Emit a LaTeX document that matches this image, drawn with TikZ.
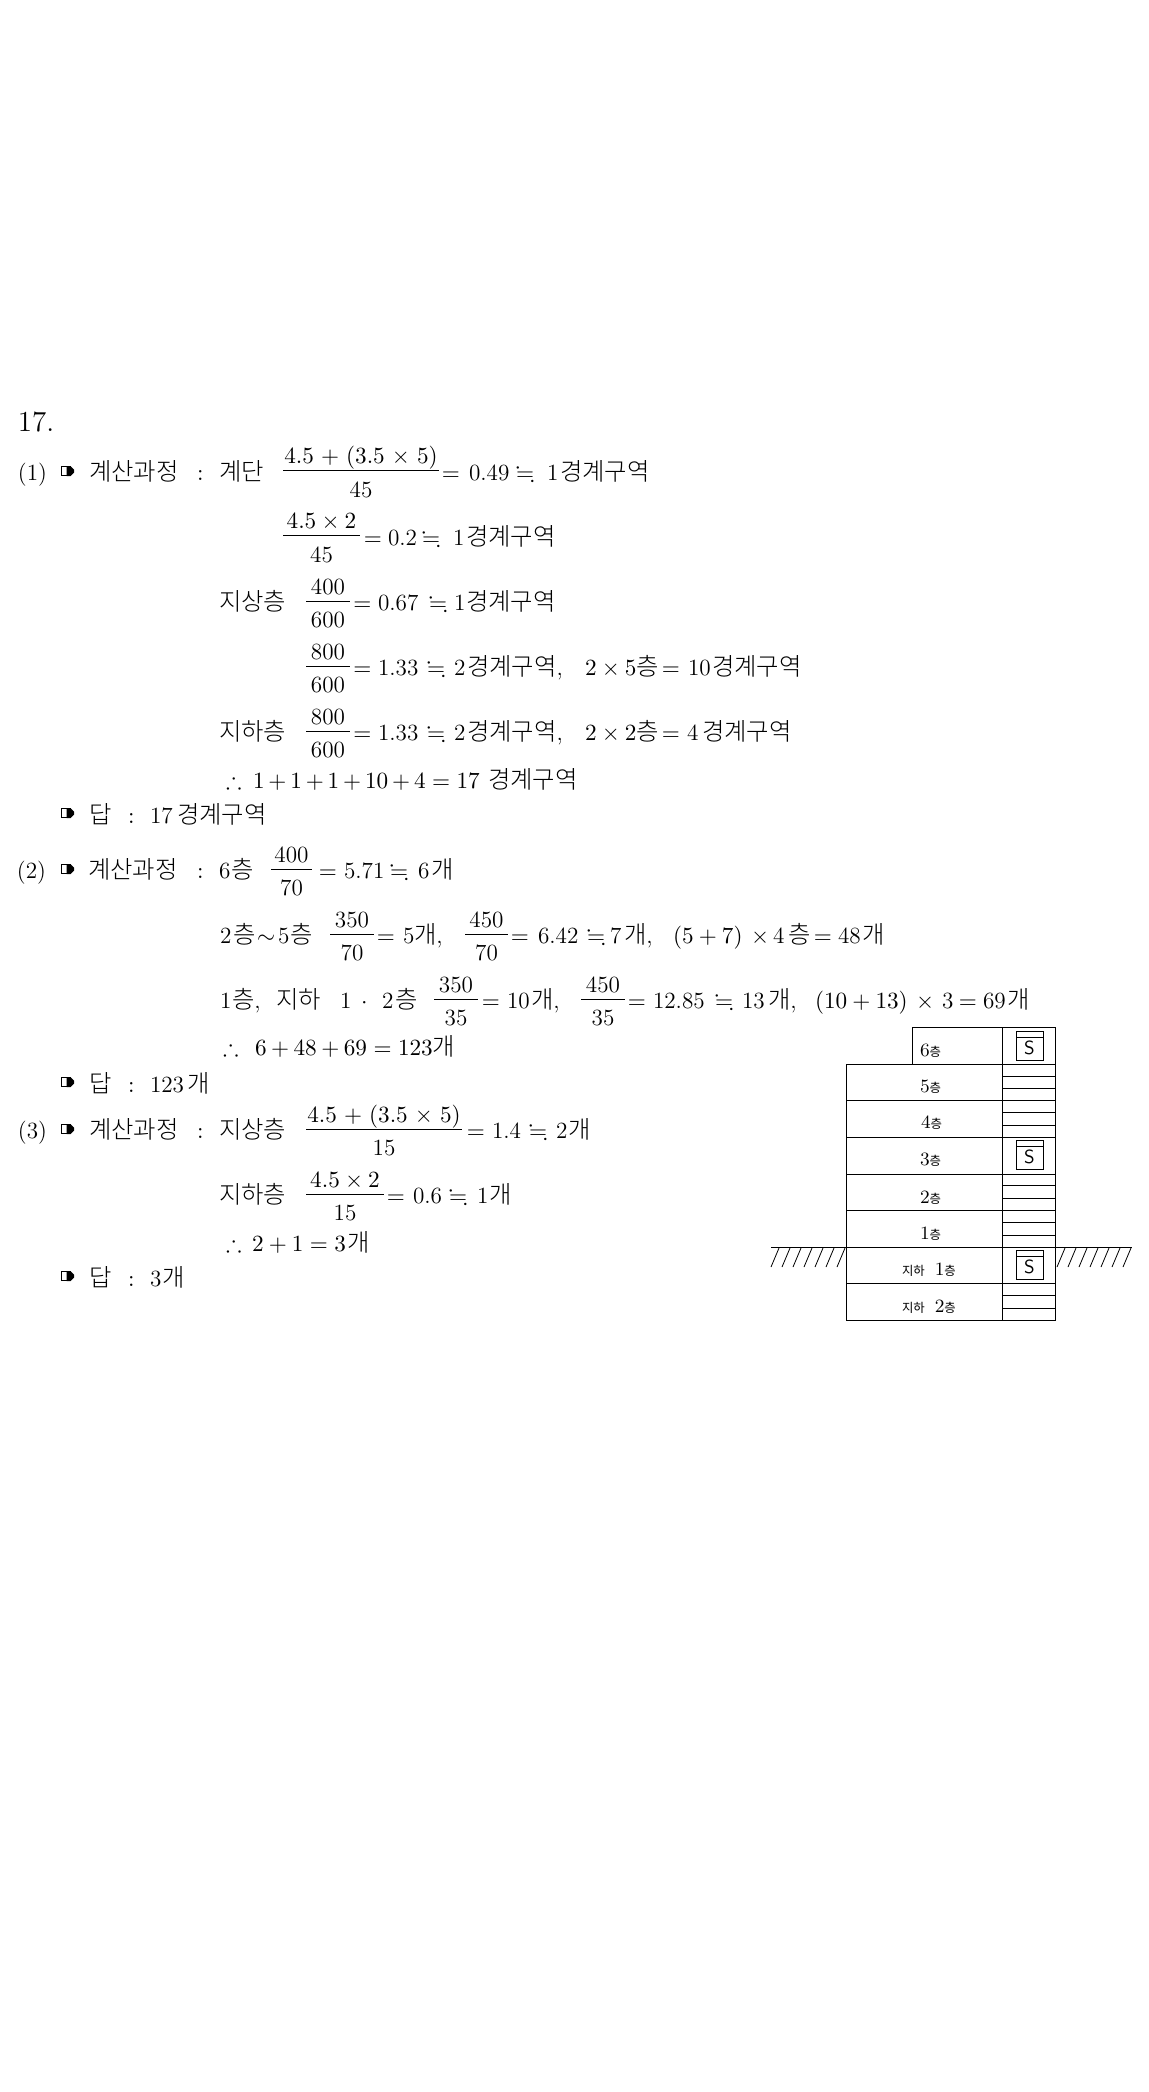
\RequirePackage{fix-cm}
\documentclass[tikz,border=0pt]{standalone}
\usepackage{amssymb}
\usepackage{fontspec}
\newfontfamily\kr{Noto Sans CJK KR Light}[Scale=1.05]
\newfontfamily\krb{Noto Sans CJK KR}
\newcount\tn
\tikzset{
  txt/.style={anchor=base west,inner sep=0pt,outer sep=0pt,font=\fontsize{11.6}{14}\selectfont},
  num/.style={anchor=base,inner sep=0pt,outer sep=0pt,font=\fontsize{11.6}{14}\selectfont},
  lab/.style={anchor=base west,inner sep=0pt,outer sep=0pt,font=\fontsize{9.4}{11}\selectfont},
  big/.style={anchor=base west,inner sep=0pt,outer sep=0pt,font=\fontsize{14.5}{17}\selectfont},
  fracline/.style={line width=0.5pt},
  wall/.style={line width=0.7pt},
  hatch/.style={line width=0.4pt},
}
\newcommand\K[1]{{\kr #1}}
\newcommand\Ks[1]{{\fontsize{6.2}{7}\selectfont\krb #1}}
\newcommand\E{\kern-0.6pt$=$}
\newcommand\A{\kern-0.5pt$\fallingdotseq$}
\newcommand\T[3]{\global\advance\tn by 1 \node[txt] (t\the\tn) at (#1,#2) {#3};}
\newcommand\Fr[5]{%
  \draw[fracline] (#1,#3) -- (#2,#3);
  \global\advance\tn by 1 \node[num] (t\the\tn) at ({(#1+#2)/2},{#3-7}) {#4};
  \global\advance\tn by 1 \node[num] (t\the\tn) at ({(#1+#2)/2},{#3+26.5}) {#5};}
\newcommand\Bul[2]{%
  \draw[line width=0.5pt] (#1,#2-4.7) rectangle (#1+9,#2+4.7);
  \fill (#1+5.5,#2-5) -- (#1+9.5,#2-5) -- (#1+13,#2-1.5) -- (#1+13,#2+1.5) -- (#1+9.5,#2+5) -- (#1+5.5,#2+5) -- cycle;}
\newcommand\Lab[3]{\global\advance\tn by 1 \node[lab] (t\the\tn) at (#1,#2) {#3};}
\newcommand\Sbox[1]{%
  \draw[line width=0.5pt] (1016.3,#1) rectangle (1043.7,#1+29);
  \draw[line width=0.5pt] (1016.3,#1+6) -- (1043.7,#1+6);
  \global\advance\tn by 1 \node[inner sep=0pt,font=\sffamily\fontsize{9.5}{11}\selectfont] (t\the\tn) at (1029.5,#1+17) {S};}
\newcommand\NumA{$\medmuskip=5.5mu\relax 4.5+(3.5\times5)$}
\begin{document}
\begin{tikzpicture}[x=0.5pt,y=-0.5pt]
\useasboundingbox[fill=white] (0,0) rectangle (1148,2092);
\node[big] (title) at (18,431.7) {17.};
% (1)
\T{18}{480}{(1)} \Bul{61}{471} \T{89}{480}{\K{계산과정}} \T{197}{480}{$:$} \T{219}{480}{\K{계단}}
\Fr{283}{439}{470.7}{\NumA}{45}
\T{443}{480}{\E} \T{469}{480}{0.49} \T{517}{480}{\A} \T{547}{480}{1} \T{560}{480}{\K{경계구역}}
\Fr{283}{360}{535.7}{$4.5\times2$}{45}
\T{365}{545}{\E} \T{388}{545}{0.2} \T{423}{545}{\A} \T{453}{545}{1} \T{466}{545}{\K{경계구역}}
\T{219}{610}{\K{지상층}}
\Fr{306}{350}{601}{400}{600}
\T{354.5}{610}{\E} \T{378}{610}{0.67} \T{430}{610}{\A} \T{454}{610}{1} \T{466}{610}{\K{경계구역}}
\Fr{306}{350}{666}{800}{600}
\T{354.5}{675}{\E} \T{378}{675}{1.33} \T{428}{675}{\A} \T{454}{675}{2} \T{467}{675}{\K{경계구역},}
\T{585}{675}{$2\times5$} \T{636}{675}{\K{층}} \T{663}{675}{\E} \T{688}{675}{10} \T{712}{675}{\K{경계구역}}
\T{219}{740}{\K{지하층}}
\Fr{306}{350}{731}{800}{600}
\T{354.5}{740}{\E} \T{378}{740}{1.33} \T{428}{740}{\A} \T{454}{740}{2} \T{467}{740}{\K{경계구역},}
\T{585}{740}{$2\times2$} \T{636}{740}{\K{층}} \T{663}{740}{\E} \T{687}{740}{4} \T{702}{740}{\K{경계구역}}
\T{226}{788}{$\therefore$} \T{253}{788}{$\medmuskip=3mu\relax 1+1+1+10+4=17$} \T{488}{788}{\K{경계구역}}
\Bul{61}{813} \T{89}{823}{\K{답}} \T{128}{823}{$:$} \T{150}{823}{17} \T{177}{823}{\K{경계구역}}
% (2)
\T{17}{878.5}{(2)} \Bul{61}{869} \T{88}{878.5}{\K{계산과정}} \T{197}{878.5}{$:$} \T{219}{878.5}{6} \T{231}{878.5}{\K{층}}
\Fr{271}{312}{869.3}{400}{70}
\T{320}{878.5}{\E} \T{344}{878.5}{5.71} \T{391}{878.5}{\A} \T{418}{878.5}{6} \T{431}{878.5}{\K{개}}
\T{220}{943}{2} \T{233}{943}{\K{층}} \T{257}{943}{$\sim$} \T{278}{943}{5} \T{290}{943}{\K{층}}
\Fr{330}{374}{934.3}{350}{70}
\T{378}{943}{\E} \T{403}{943}{5} \T{414}{943}{\K{개},}
\Fr{465}{508}{934.3}{450}{70}
\T{512}{943}{\E} \T{538}{943}{6.42} \T{588}{943}{\A} \T{610}{943}{7} \T{624}{943}{\K{개},}
\T{673}{943}{$(5+7)$} \T{751}{943}{$\times$} \T{773}{943}{4} \T{788}{943}{\K{층}} \T{815}{943}{\E} \T{838}{943}{48} \T{862}{943}{\K{개}}
\T{220}{1008.5}{1} \T{232}{1008.5}{\K{층},} \T{276}{1008.5}{\K{지하}} \T{340}{1008.5}{1} \T{361}{1008.5}{$\cdot$} \T{382}{1008.5}{2} \T{395}{1008.5}{\K{층}}
\Fr{434}{478}{999.3}{350}{35}
\T{483}{1008.5}{\E} \T{507}{1008.5}{10} \T{531}{1008.5}{\K{개},}
\Fr{581}{625}{999.3}{450}{35}
\T{629}{1008.5}{\E} \T{653}{1008.5}{12.85} \T{716}{1008.5}{\A} \T{742}{1008.5}{13} \T{768}{1008.5}{\K{개},}
\T{815}{1008.5}{$(10+13)$} \T{916}{1008.5}{$\times$} \T{942}{1008.5}{3} \T{960}{1008.5}{\E} \T{983}{1008.5}{69} \T{1007}{1008.5}{\K{개}}
\T{223}{1055}{$\therefore$} \T{255}{1055}{$\medmuskip=3.5mu\relax 6+48+69=123$} \T{432}{1055}{\K{개}}
\Bul{61}{1082} \T{89}{1092}{\K{답}} \T{128}{1092}{$:$} \T{150}{1092}{123} \T{187}{1092}{\K{개}}
% (3)
\T{18}{1138.5}{(3)} \Bul{61}{1129} \T{89}{1138.5}{\K{계산과정}} \T{197}{1138.5}{$:$} \T{219}{1138.5}{\K{지상층}}
\Fr{306}{462}{1129.3}{\NumA}{15}
\T{468}{1138.5}{\E} \T{492}{1138.5}{1.4} \T{530}{1138.5}{\A} \T{556}{1138.5}{2} \T{568}{1138.5}{\K{개}}
\T{219}{1203.5}{\K{지하층}}
\Fr{306}{384}{1194.3}{$4.5\times2$}{15}
\T{388}{1203.5}{\E} \T{413}{1203.5}{0.6} \T{450}{1203.5}{\A} \T{477}{1203.5}{1} \T{489}{1203.5}{\K{개}}
\T{226}{1251}{$\therefore$} \T{252}{1251}{$2+1=3$} \T{347}{1251}{\K{개}}
\Bul{61}{1276} \T{89}{1286}{\K{답}} \T{128}{1286}{$:$} \T{150}{1286}{3} \T{162}{1286}{\K{개}}
% building
\draw[wall] (912.3,1064.3) -- (912.3,1027.3) -- (1055.3,1027.3) -- (1055.3,1320.3) -- (846.7,1320.3) -- (846.7,1064.3) -- cycle;
\draw[wall] (1002.3,1027.3) -- (1002.3,1320.3);
\foreach \y in {1064.3,1100.3,1137.3,1174.3,1210.7,1283.3} \draw[wall] (846.7,\y) -- (1055.3,\y);
\draw[wall] (771,1247.3) -- (1131.7,1247.3);
\foreach \y in {1076.3,1088.3,1112.3,1125.3,1185.3,1198.3,1222.3,1235.3,1295.3,1308.3} \draw[wall] (1002.3,\y) -- (1055.3,\y);
\Sbox{1031.3} \Sbox{1140.3} \Sbox{1250.3}
\foreach \x in {779,790,801,812,823,834,845} \draw[hatch] (\x,1248) -- (\x-8,1267);
\foreach \x in {1065,1076,1087,1098,1109,1120,1131} \draw[hatch] (\x,1248) -- (\x-8,1267);
\Lab{920}{1056}{6\Ks{층}} \Lab{920}{1092.7}{5\Ks{층}} \Lab{921}{1128.7}{4\Ks{층}} \Lab{920}{1165.7}{3\Ks{층}}
\Lab{920}{1203}{2\Ks{층}} \Lab{920}{1239}{1\Ks{층}} \Lab{902}{1275}{\Ks{지하}\kern5pt 1\Ks{층}} \Lab{902}{1312}{\Ks{지하}\kern5pt 2\Ks{층}}
\end{tikzpicture}
\end{document}
